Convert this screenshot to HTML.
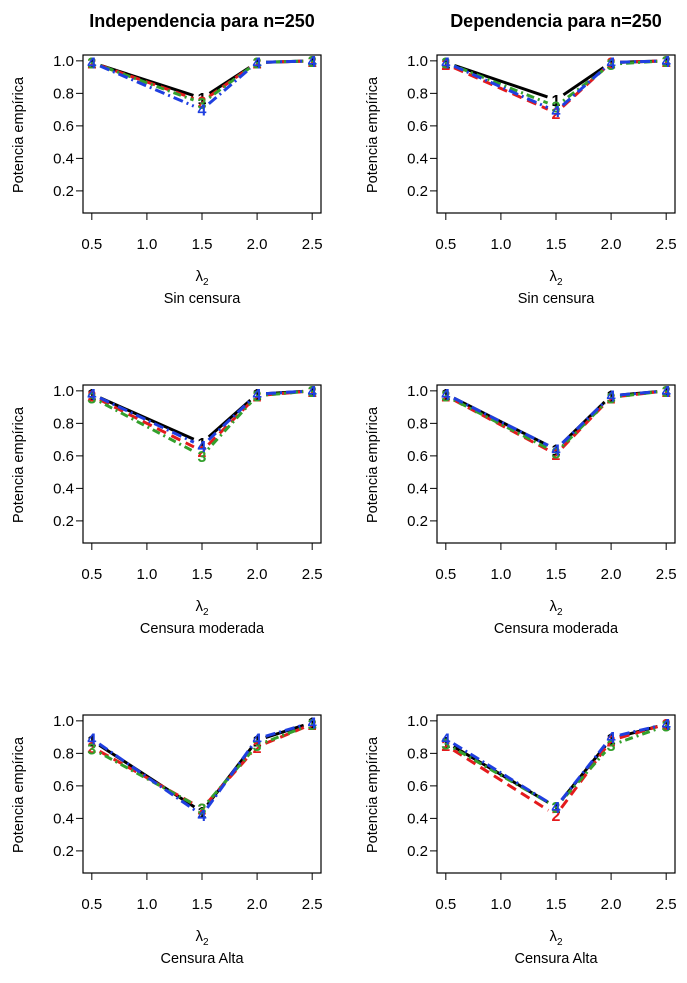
<!DOCTYPE html>
<html><head><meta charset="utf-8"><style>
body{margin:0;background:#fff}
svg text{font-family:"Liberation Sans",sans-serif}
</style></head><body>
<svg id="c" width="687" height="978" xmlns="http://www.w3.org/2000/svg">
<text x="202" y="27" font-size="18" font-weight="bold" text-anchor="middle">Independencia para n=250</text>
<text x="556" y="27" font-size="18" font-weight="bold" text-anchor="middle">Dependencia para n=250</text>
</svg>
<script>
const xVals=[0.5,1.5,2.0,2.5];
const xTicks=[0.5,1.0,1.5,2.0,2.5];
const yTicks=[0.2,0.4,0.6,0.8,1.0];
const subtitles=["Sin censura","Censura moderada","Censura Alta"];
const seriesLabels=["1","2","3","4"];
const p1=[[0.99,0.77,0.99,1.0],[0.99,0.75,0.99,1.0],[0.99,0.74,0.99,1.0],[0.99,0.70,0.99,1.0]];
const p2=[[0.99,0.76,0.99,1.0],[0.98,0.68,0.99,1.0],[0.99,0.72,0.98,1.0],[0.99,0.69,0.99,1.0]];
const p3=[[0.98,0.68,0.98,1.0],[0.97,0.63,0.97,1.0],[0.96,0.60,0.97,1.0],[0.98,0.66,0.98,1.0]];
const p4=[[0.98,0.64,0.97,1.0],[0.97,0.61,0.96,1.0],[0.97,0.62,0.96,1.0],[0.98,0.64,0.97,1.0]];
const p5=[[0.88,0.44,0.88,0.99],[0.84,0.46,0.84,0.98],[0.83,0.46,0.85,0.98],[0.89,0.42,0.89,0.99]];
const p6=[[0.87,0.47,0.89,0.98],[0.85,0.42,0.88,0.98],[0.86,0.47,0.85,0.97],[0.89,0.47,0.90,0.98]];
const panels=[p1,p2,p3,p4,p5,p6];
const colors=["#000","#e41a1c","#33a02c","#1f3fe0"];
const dashes=["","10,6","2,4,8,4","10,4,2,4"];
const NS="http://www.w3.org/2000/svg";
const svg=document.getElementById('c');
function mk(t,a,p){const e=document.createElementNS(NS,t);for(const k in a)e.setAttribute(k,a[k]);(p||svg).appendChild(e);return e;}
const W=238,H=158,xmin=0.42,xmax=2.58,ymin=0.064,ymax=1.036;
panels.forEach((data,i)=>{
  const col=i%2,row=Math.floor(i/2);
  const x0=col?437:83,y0=55+row*330;
  const sx=v=>x0+(v-xmin)/(xmax-xmin)*W;
  const sy=v=>y0+(ymax-v)/(ymax-ymin)*H;
  const g=mk('g',{});
  
  
  const box=mk('rect',{x:x0,y:y0,width:W,height:H,fill:'none',stroke:'#000','stroke-width':1.2},g);
  
  
  xTicks.forEach(t=>{
    mk('line',{x1:sx(t),x2:sx(t),y1:y0+H,y2:y0+H+7,stroke:'#000'},g);
    const tx=mk('text',{x:sx(t),y:y0+H+36,'font-size':15,'text-anchor':'middle'},g);
    tx.textContent=t.toFixed(1);
    
    
  });
  yTicks.forEach(t=>{
    mk('line',{x1:x0,x2:x0-7,y1:sy(t),y2:sy(t),stroke:'#000'},g);
    const tx=mk('text',{x:x0-9,y:sy(t)+5,'font-size':15,'text-anchor':'end'},g);
    tx.textContent=t.toFixed(1);
    
    
  });
  const yl=mk('text',{x:0,y:0,'font-size':14.5,'text-anchor':'middle',transform:`translate(${x0-60},${y0+80}) rotate(-90)`},g);
  yl.textContent='Potencia empírica';
  
  
  const xl=mk('text',{x:x0+W/2,y:y0+226,'font-size':15,'text-anchor':'middle','font-family':'"Liberation Serif",serif'},g);
  xl.innerHTML='λ<tspan font-size="10" dy="4">2</tspan>';
  
  
  const st=mk('text',{x:x0+W/2,y:y0+248,'font-size':14.5,'text-anchor':'middle'},g);
  st.textContent=subtitles[row];
  
  
  data.forEach((s,k)=>{
    for(let j=0;j<s.length-1;j++){
      const ax=sx(xVals[j]),ay=sy(s[j]),bx=sx(xVals[j+1]),by=sy(s[j+1]);
      const L=Math.hypot(bx-ax,by-ay),g2=9/L;
      const ln=mk('line',{x1:ax+(bx-ax)*g2,y1:ay+(by-ay)*g2,x2:bx-(bx-ax)*g2,y2:by-(by-ay)*g2,stroke:colors[k],'stroke-width':3,'stroke-dasharray':dashes[k]},g);
      
      
    }
    s.forEach((v,j)=>{
      const t=mk('text',{x:sx(xVals[j]),y:sy(v)+6,'font-size':16,'font-weight':'bold','text-anchor':'middle',fill:colors[k]},g);
      t.textContent=seriesLabels[k];
      
      
    });
  });
});
</script>
</body></html>
